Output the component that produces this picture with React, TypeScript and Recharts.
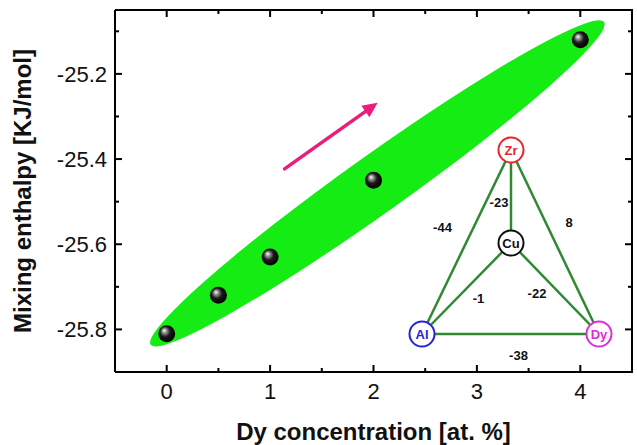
import React from "react"
import { ScatterChart, Scatter, XAxis, YAxis, usePlotArea } from "recharts"

const FONT = "'Liberation Sans', Arial, sans-serif"

// measured points
const DY_CONC = [0, 0.5, 1, 2, 4]
const MIX_ENTHALPY = [-25.81, -25.72, -25.63, -25.45, -25.12]

const X_DOMAIN = [-0.5, 4.5]
const Y_DOMAIN = [-25.9, -25.05]
const X_TICKS = [0, 0.5, 1, 1.5, 2, 2.5, 3, 3.5, 4]
const Y_TICKS = [-25.8, -25.7, -25.6, -25.5, -25.4, -25.3, -25.2, -25.1]

// green band drawn around the trend: its two tips, in data units
const BAND_ENDS = [
  { x: -0.155, y: -25.836 },
  { x: 4.23, y: -25.078 },
]
// pink arrow (tail, head), in data units
const ARROW = [
  { x: 1.14, y: -25.423 },
  { x: 2.04, y: -25.268 },
]

// inset: binary mixing enthalpies
const ELEMENTS = ["Zr", "Cu", "Al", "Dy"]
const PAIRS = [
  { a: "Zr", b: "Cu", h: -23 },
  { a: "Zr", b: "Al", h: -44 },
  { a: "Zr", b: "Dy", h: 8 },
  { a: "Cu", b: "Al", h: -1 },
  { a: "Cu", b: "Dy", h: -22 },
  { a: "Al", b: "Dy", h: -38 },
]

const points = DY_CONC.map((x, i) => ({ x, y: MIX_ENTHALPY[i] }))

// inset layout (pixels)
const NODE_POS: Record<string, [number, number]> = {
  Zr: [511, 150],
  Cu: [511, 243],
  Al: [422, 334],
  Dy: [599, 334],
}
const NODE_COLOR: Record<string, string> = {
  Zr: "#e8262a",
  Cu: "#111111",
  Al: "#2323d8",
  Dy: "#e02ae0",
}
const LABEL_SHIFT: Record<string, [number, number]> = {
  "Zr-Cu": [-12, 6],
  "Zr-Al": [-24, -15],
  "Zr-Dy": [14, -20],
  "Cu-Al": [12, 10],
  "Cu-Dy": [-18, 5],
  "Al-Dy": [8, 21],
}

const MAJOR = 7
const MINOR = 4

function XTick(props: any) {
  const { x, y, payload } = props
  const v = payload.value as number
  const major = Number.isInteger(v)
  return (
    <g>
      <line x1={x} x2={x} y1={y} y2={y - (major ? MAJOR : MINOR)} stroke="#000" strokeWidth={2} />
      {major && (
        <text x={x} y={y + 27} textAnchor="middle" fontSize={22} fontFamily={FONT} fill="#111">
          {v}
        </text>
      )}
    </g>
  )
}

function TopTick(props: any) {
  const { x, y, payload } = props
  const major = Number.isInteger(payload.value)
  return <line x1={x} x2={x} y1={y} y2={y + (major ? MAJOR : MINOR)} stroke="#000" strokeWidth={2} />
}

function isMajorY(v: number) {
  return Math.round(v * 10) % 2 === 0
}

function YTick(props: any) {
  const { x, y, payload } = props
  const v = payload.value as number
  const major = isMajorY(v)
  return (
    <g>
      <line x1={x} x2={x + (major ? MAJOR : MINOR)} y1={y} y2={y} stroke="#000" strokeWidth={2} />
      {major && (
        <text x={x - 8} y={y + 8} textAnchor="end" fontSize={22} fontFamily={FONT} fill="#111">
          {v.toFixed(1)}
        </text>
      )}
    </g>
  )
}

function RightTick(props: any) {
  const { x, y, payload } = props
  const major = isMajorY(payload.value)
  return <line x1={x} x2={x - (major ? MAJOR : MINOR)} y1={y} y2={y} stroke="#000" strokeWidth={2} />
}

function useToPixel() {
  const plot = usePlotArea()
  if (!plot) return null
  return (p: { x: number; y: number }) => ({
    x: plot.x + ((p.x - X_DOMAIN[0]) / (X_DOMAIN[1] - X_DOMAIN[0])) * plot.width,
    y: plot.y + ((Y_DOMAIN[1] - p.y) / (Y_DOMAIN[1] - Y_DOMAIN[0])) * plot.height,
  })
}

function Band() {
  const toPx = useToPixel()
  if (!toPx) return null
  const a = toPx(BAND_ENDS[0])
  const b = toPx(BAND_ENDS[1])
  const cx = (a.x + b.x) / 2
  const cy = (a.y + b.y) / 2
  const rx = Math.hypot(b.x - a.x, b.y - a.y) / 2
  const angle = (Math.atan2(b.y - a.y, b.x - a.x) * 180) / Math.PI
  return <ellipse cx={cx} cy={cy} rx={rx} ry={29} fill="#14ec14" transform={`rotate(${angle} ${cx} ${cy})`} />
}

function Arrow() {
  const toPx = useToPixel()
  if (!toPx) return null
  const s = toPx(ARROW[0])
  const e = toPx(ARROW[1])
  const ang = Math.atan2(e.y - s.y, e.x - s.x)
  const len = 15
  const half = 7
  const bx = e.x - len * Math.cos(ang)
  const by = e.y - len * Math.sin(ang)
  const nx = -Math.sin(ang)
  const ny = Math.cos(ang)
  return (
    <g>
      <line x1={s.x} y1={s.y} x2={bx + 2 * Math.cos(ang)} y2={by + 2 * Math.sin(ang)} stroke="#ea1d7c" strokeWidth={3.5} strokeLinecap="round" />
      <polygon
        points={`${e.x},${e.y} ${bx + nx * half},${by + ny * half} ${bx - nx * half},${by - ny * half}`}
        fill="#ea1d7c"
      />
    </g>
  )
}

// top and right frame lines with mirrored ticks
function Frame() {
  const toPx = useToPixel()
  const plot = usePlotArea()
  if (!toPx || !plot) return null
  const top = plot.y
  const right = plot.x + plot.width
  return (
    <g>
      <line x1={plot.x} x2={right} y1={top} y2={top} stroke="#000" strokeWidth={2} />
      <line x1={right} x2={right} y1={top - 1} y2={plot.y + plot.height + 1} stroke="#000" strokeWidth={2} />
      {X_TICKS.map((v) => (
        <TopTick key={`t${v}`} x={toPx({ x: v, y: 0 }).x} y={top} payload={{ value: v }} />
      ))}
      {Y_TICKS.map((v) => (
        <RightTick key={`r${v}`} x={right} y={toPx({ x: 0, y: v }).y} payload={{ value: v }} />
      ))}
    </g>
  )
}

function Inset() {
  return (
    <g fontFamily={FONT} fontWeight="bold">
      {PAIRS.map((p) => {
        const [x1, y1] = NODE_POS[p.a]
        const [x2, y2] = NODE_POS[p.b]
        const [dx, dy] = LABEL_SHIFT[`${p.a}-${p.b}`]
        return (
          <g key={`${p.a}-${p.b}`}>
            <line x1={x1} y1={y1} x2={x2} y2={y2} stroke="#2f8a2f" strokeWidth={2.5} />
            <text
              x={(x1 + x2) / 2 + dx}
              y={(y1 + y2) / 2 + dy}
              textAnchor="middle"
              dominantBaseline="central"
              fontSize={13}
              fill="#111"
            >
              {p.h}
            </text>
          </g>
        )
      })}
      {ELEMENTS.map((el) => {
        const [x, y] = NODE_POS[el]
        return (
          <g key={el}>
            <circle cx={x} cy={y} r={12.5} fill="#fff" stroke={NODE_COLOR[el]} strokeWidth={2} />
            <text x={x} y={y} textAnchor="middle" dominantBaseline="central" fontSize={13} fill={NODE_COLOR[el]}>
              {el}
            </text>
          </g>
        )
      })}
    </g>
  )
}

function Ball(props: any) {
  const { cx, cy } = props
  if (cx == null || cy == null) return null
  return <circle cx={cx} cy={cy} r={8.5} fill="url(#ball)" />
}

export default function App() {
  return (
    <div style={{ width: 637, height: 445, position: "absolute", left: 0, top: 0, background: "#fff" }}>
      <ScatterChart width={637} height={445} margin={{ top: 10, right: 5, bottom: 0, left: 0 }}>
        <defs>
          <radialGradient id="ball" cx="45%" cy="45%" r="55%" fx="35%" fy="30%">
            <stop offset="0%" stopColor="#ffffff" />
            <stop offset="22%" stopColor="#9a9a9a" />
            <stop offset="55%" stopColor="#1a1a1a" />
            <stop offset="100%" stopColor="#000000" />
          </radialGradient>
        </defs>
        <XAxis
          type="number"
          dataKey="x"
          domain={X_DOMAIN}
          ticks={X_TICKS}
          interval={0}
          allowDataOverflow
          height={73}
          tickSize={0}
          tickMargin={0}
          tick={(p: any) => <XTick {...p} />}
          axisLine={{ stroke: "#000", strokeWidth: 2 }}
          label={{
            value: "Dy concentration [at. %]",
            position: "insideBottom",
            offset: 5,
            style: { fontSize: 24, fontWeight: "bold", fontFamily: FONT, fill: "#111" },
          }}
        />
        <YAxis
          type="number"
          dataKey="y"
          domain={Y_DOMAIN}
          ticks={Y_TICKS}
          interval={0}
          allowDataOverflow
          width={115}
          tickSize={0}
          tickMargin={0}
          tick={(p: any) => <YTick {...p} />}
          axisLine={{ stroke: "#000", strokeWidth: 2 }}
          label={{
            value: "Mixing enthalpy [KJ/mol]",
            angle: -90,
            position: "insideLeft",
            offset: 22,
            style: { fontSize: 24, fontWeight: "bold", fontFamily: FONT, fill: "#111", textAnchor: "middle" },
          }}
        />
        <Band />
        <Arrow />
        <Inset />
        <Frame />
        <Scatter data={points} shape={(p: any) => <Ball {...p} />} isAnimationActive={false} />
      </ScatterChart>
    </div>
  )
}
